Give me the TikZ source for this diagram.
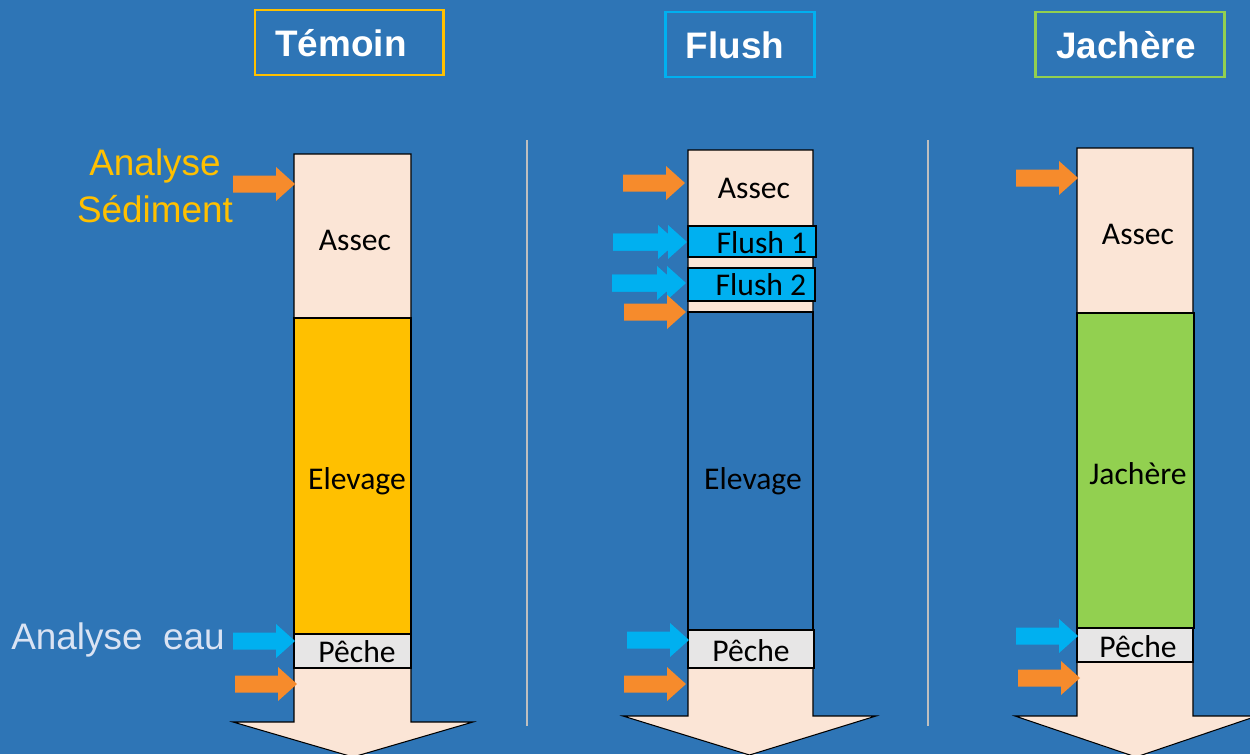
\documentclass[tikz,border=0pt]{standalone}
\usepackage{fontspec}
\setmainfont{Carlito}
\newfontfamily\arial{Liberation Sans}
\usepackage{tikz}

\definecolor{fond}{HTML}{2E75B6}
\definecolor{peche}{HTML}{FBE5D6}
\definecolor{jaune}{HTML}{FFC000}
\definecolor{orangefl}{HTML}{F68B2C}
\definecolor{cyanfl}{HTML}{00B0F0}
\definecolor{vert}{HTML}{92D050}
\definecolor{gris}{HTML}{E7E6E6}
\definecolor{pale}{HTML}{DAE3F3}
\definecolor{sep}{HTML}{BFBFBF}

% small block arrow: colour, start x, tip x, y
\newcommand{\bloc}[4]{%
  \fill[#1] (#2,#4-8.5) -- (#3-19,#4-8.5) -- (#3-19,#4-17) -- (#3,#4)
    -- (#3-19,#4+17) -- (#3-19,#4+8.5) -- (#2,#4+8.5) -- cycle;}
% big column arrow: left, right, top, head y, head left, head right, tip y
\newcommand{\colonne}[7]{%
  \draw[band] (#1,#3) -- (#2,#3) -- (#2,#4) -- (#6,#4) -- ({(#5+#6)/2},#7)
    -- (#5,#4) -- (#1,#4) -- cycle;}

\begin{document}
\begin{tikzpicture}[x=0.02cm,y=-0.02cm]
        \tikzset{band/.style = {draw=black,line width=0.6pt,fill=peche}};
        \tikzset{lbl/.style = {font=\fontsize{18}{21}\selectfont,text=black}};
        \tikzset{titre/.style = {font=\arial\bfseries\fontsize{21}{25}\selectfont,text=white}};
        \tikzset{cadre/.style = {line width=1.7pt}};
        \tikzset{note/.style = {font=\arial\fontsize{21}{26.6}\selectfont,align=center}};
        \clip (0,0) rectangle (1250,754);
        \fill[fond] (0,0) rectangle (1250,754);

        % separators
        \draw[sep,line width=1.6pt] (527,140) -- (527,726);
        \draw[sep,line width=1.6pt] (928,140) -- (928,726);

        % titles
        \draw[cadre,jaune] (255,10) rectangle (443,75);
        \node[titre] (temoin) at (341,43) {Témoin};
        \draw[cadre,cyanfl] (665,12) rectangle (814,77);
        \node[titre] (flush) at (735,45) {Flush};
        \draw[cadre,vert] (1035,12) rectangle (1224,77);
        \node[titre] (jachere) at (1126,45) {Jachère};

        % Temoin column
        \colonne{294}{411}{154}{722}{233}{473}{757}
        \draw[band,fill=jaune] (294,318) rectangle (411,634);
        \draw[band,fill=gris] (294,634) rectangle (411,668);
        \node[lbl] (assec1) at (355,240) {Assec};
        \node[lbl] (elev1) at (357,481) {Elevage};
        \node[lbl] (peche1) at (357,652) {Pêche};
        \bloc{orangefl}{233}{295}{184}
        \bloc{cyanfl}{233}{295}{641}
        \bloc{orangefl}{235}{297}{684}
        \node[note,text=jaune] (sed) at (155,186) {Analyse\\Sédiment};
        \node[note,text=pale] (eau) at (118,640) {Analyse\ \ eau};

        % Flush column
        \colonne{688}{813}{150}{716}{623}{876}{755}
        \draw[band,fill=cyanfl] (688,226) rectangle (816,257);
        \draw[band,fill=cyanfl] (688,268) rectangle (815,301);
        \draw[band,fill=fond] (688,312) rectangle (813,630);
        \draw[band,fill=gris] (688,630) rectangle (814,668);
        \node[lbl] (assec2) at (754,188) {Assec};
        \node[lbl] (fl1) at (762,243) {Flush 1};
        \node[lbl] (fl2) at (761,285) {Flush 2};
        \node[lbl] (elev2) at (753,481) {Elevage};
        \node[lbl] (peche2) at (751,651) {Pêche};
        \bloc{orangefl}{623}{685}{183}
        \bloc{cyanfl}{613}{677}{242}
        \bloc{cyanfl}{613}{687}{242}
        \bloc{cyanfl}{612}{676}{283}
        \bloc{cyanfl}{612}{686}{283}
        \bloc{orangefl}{624}{686}{312}
        \bloc{cyanfl}{627}{689}{640}
        \bloc{orangefl}{624}{686}{684}

        % Jachere column
        \colonne{1077}{1193}{148}{716}{1015}{1257}{757}
        \draw[band,fill=vert] (1077,313) rectangle (1194,628);
        \draw[band,fill=gris] (1077,628) rectangle (1193,662);
        \node[lbl] (assec3) at (1138,234) {Assec};
        \node[lbl] (jach) at (1138,474) {Jachère};
        \node[lbl] (peche3) at (1138,647) {Pêche};
        \bloc{orangefl}{1016}{1078}{178}
        \bloc{cyanfl}{1016}{1078}{636}
        \bloc{orangefl}{1018}{1080}{678}
    \end{tikzpicture}
\end{document}
